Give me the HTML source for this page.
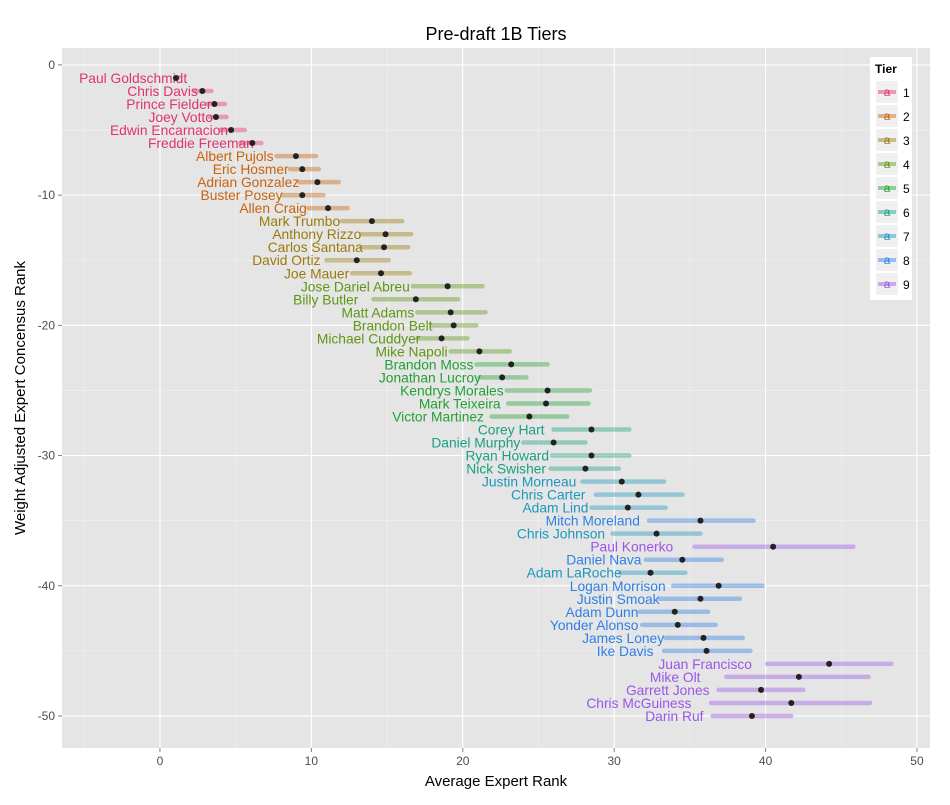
<!DOCTYPE html>
<html><head><meta charset="utf-8"><style>
body{margin:0;background:#fff;font-family:"Liberation Sans",sans-serif;}
svg text{font-family:"Liberation Sans",sans-serif;}
</style></head><body>
<svg id="chart" width="950" height="800" xmlns="http://www.w3.org/2000/svg">
<rect x="0" y="0" width="950" height="800" fill="#fff"/>
<rect x="62" y="48" width="868" height="700" fill="#e5e5e5"/>
<g id="grid"></g><g id="bars"></g><g id="labels"></g><g id="points"></g><g id="axes"></g>
<text x="496" y="40" font-size="18" text-anchor="middle" fill="#000">Pre-draft 1B Tiers</text>
<text x="496" y="786" font-size="15" text-anchor="middle" fill="#000">Average Expert Rank</text>
<text transform="translate(25,398) rotate(-90)" font-size="15" text-anchor="middle" fill="#000">Weight Adjusted Expert Concensus Rank</text>
<g id="legend"></g>
</svg>
<script>
const players=["Paul Goldschmidt","Chris Davis","Prince Fielder","Joey Votto","Edwin Encarnacion","Freddie Freeman","Albert Pujols","Eric Hosmer","Adrian Gonzalez","Buster Posey","Allen Craig","Mark Trumbo","Anthony Rizzo","Carlos Santana","David Ortiz","Joe Mauer","Jose Dariel Abreu","Billy Butler","Matt Adams","Brandon Belt","Michael Cuddyer","Mike Napoli","Brandon Moss","Jonathan Lucroy","Kendrys Morales","Mark Teixeira","Victor Martinez","Corey Hart","Daniel Murphy","Ryan Howard","Nick Swisher","Justin Morneau","Chris Carter","Adam Lind","Mitch Moreland","Chris Johnson","Paul Konerko","Daniel Nava","Adam LaRoche","Logan Morrison","Justin Smoak","Adam Dunn","Yonder Alonso","James Loney","Ike Davis","Juan Francisco","Mike Olt","Garrett Jones","Chris McGuiness","Darin Ruf"];
const tiers=[1,1,1,1,1,1,2,2,2,2,2,3,3,3,3,3,4,4,4,4,4,4,5,5,5,5,5,6,6,6,6,7,7,7,8,7,9,8,7,8,8,8,8,8,8,9,9,9,9,9];
const avgRank=[1.06,2.8,3.6,3.7,4.7,6.1,8.98,9.4,10.4,9.4,11.1,14.0,14.9,14.8,13.0,14.6,19.0,16.9,19.2,19.4,18.6,21.1,23.2,22.6,25.6,25.5,24.4,28.5,26.0,28.5,28.1,30.5,31.6,30.9,35.7,32.8,40.5,34.5,32.4,36.9,35.7,34.0,34.2,35.9,36.1,44.2,42.2,39.7,41.7,39.1];
const lowRank=[1.0,2.3,3.1,3.3,4.0,5.3,7.7,8.6,9.2,8.1,9.8,12.0,13.3,13.3,11.0,12.7,16.7,14.1,17.0,17.9,17.0,19.2,20.9,21.1,22.9,23.0,21.9,26.0,24.0,25.9,25.8,27.9,28.8,28.5,32.3,29.9,35.3,32.1,30.4,33.9,33.0,31.7,31.85,33.4,33.3,40.1,37.4,36.9,36.4,36.5];
const highRank=[1.2,3.4,4.3,4.4,5.6,6.7,10.3,10.5,11.8,10.8,12.4,16.0,16.6,16.4,15.1,16.5,21.3,19.7,21.5,20.9,20.3,23.1,25.6,24.2,28.4,28.3,26.9,31.0,28.1,31.0,30.3,33.3,34.5,33.4,39.2,35.7,45.8,37.1,34.7,39.8,38.3,36.2,36.7,38.5,39.0,48.3,46.8,42.5,46.9,41.7];
const labelRank=[1.8,2.5,3.4,3.5,4.5,6.2,7.5,8.5,9.2,8.1,9.7,11.9,13.3,13.4,10.6,12.5,16.5,13.1,16.8,18.0,17.2,19.0,20.7,21.2,22.7,22.5,21.4,25.4,23.8,25.7,25.5,27.5,28.1,28.3,31.7,29.4,33.9,31.8,30.5,33.4,33.0,31.6,31.6,33.3,32.6,39.1,35.7,36.3,35.1,35.9];
const wacr=[-1,-2,-3,-4,-5,-6,-7,-8,-9,-10,-11,-12,-13,-14,-15,-16,-17,-18,-19,-20,-21,-22,-23,-24,-25,-26,-27,-28,-29,-30,-31,-32,-33,-34,-35,-36,-37,-38,-39,-40,-41,-42,-43,-44,-45,-46,-47,-48,-49,-50];
const xTicks=[0,10,20,30,40,50];
const yTicks=[0,-10,-20,-30,-40,-50];
const tierNames=[1,2,3,4,5,6,7,8,9];
const tierColors=["#e0336e","#c8630e","#9a7b0a","#5f9615","#22a035","#18a080","#1c97bd","#2f7fe6","#9b55e8"];

const NS="http://www.w3.org/2000/svg";
const X0=62,X1=930,Y0=48,Y1=748,xmin=-6.47,xmax=50.86,ymin=-52.46,ymax=1.3;
const sx=v=>X0+(v-xmin)/(xmax-xmin)*(X1-X0);
const sy=v=>Y1-(v-ymin)/(ymax-ymin)*(Y1-Y0);
function mk(tag,attrs,parent){const e=document.createElementNS(NS,tag);for(const k in attrs)e.setAttribute(k,attrs[k]);parent.appendChild(e);return e;}
const grid=document.getElementById('grid'),bars=document.getElementById('bars'),labels=document.getElementById('labels'),points=document.getElementById('points'),axes=document.getElementById('axes'),legend=document.getElementById('legend');
for(let v=-5;v<=50;v+=5){const l=mk('line',{x1:sx(v),x2:sx(v),y1:Y0,y2:Y1,stroke:'#fff','stroke-width':v%10===0?1.1:0.5,opacity:v%10===0?1:0.6},grid);
}
for(let v=0;v>=-50;v-=5){const l=mk('line',{x1:X0,x2:X1,y1:sy(v),y2:sy(v),stroke:'#fff','stroke-width':v%10===0?1.1:0.5,opacity:v%10===0?1:0.6},grid);
}
xTicks.forEach(v=>{mk('line',{x1:sx(v),x2:sx(v),y1:Y1,y2:Y1+4,stroke:'#7f7f7f'},axes);
const t=mk('text',{x:sx(v),y:Y1+17,'font-size':12,'text-anchor':'middle',fill:'#4d4d4d'},axes);t.textContent=v;
});
yTicks.forEach(v=>{mk('line',{x1:X0-4,x2:X0,y1:sy(v),y2:sy(v),stroke:'#7f7f7f'},axes);
const t=mk('text',{x:X0-7,y:sy(v)+4,'font-size':12,'text-anchor':'end',fill:'#4d4d4d'},axes);t.textContent=v;
});
players.forEach((p,i)=>{const c=tierColors[tiers[i]-1],y=sy(wacr[i]);
const b=mk('line',{x1:sx(lowRank[i]),x2:sx(highRank[i]),y1:y,y2:y,stroke:c,'stroke-width':4.5,opacity:0.4,'stroke-linecap':'round'},bars);

const t=mk('text',{x:sx(labelRank[i]),y:y+5,'font-size':13.8,'text-anchor':'end',fill:c},labels);t.textContent=p;

const d=mk('circle',{cx:sx(avgRank[i]),cy:y,r:3,fill:'#222'},points);
});
mk('rect',{x:870,y:57,width:42,height:243,fill:'#fff'},legend);
const lt=mk('text',{x:875,y:73,'font-size':12,'font-weight':'bold',fill:'#000'},legend);lt.textContent='Tier';
tierNames.forEach((n,i)=>{const cy=92+i*24,c=tierColors[i];
mk('rect',{x:876,y:cy-11,width:22,height:22,fill:'#f0f0f0'},legend);
mk('line',{x1:878,x2:896,y1:cy,y2:cy,stroke:c,'stroke-width':4,opacity:0.45},legend);
const a=mk('text',{x:887,y:cy+4,'font-size':12,'text-anchor':'middle',fill:c},legend);a.textContent='a';
const t=mk('text',{x:903,y:cy+5,'font-size':12,fill:'#000'},legend);t.textContent=n;
});
</script>
</body></html>
